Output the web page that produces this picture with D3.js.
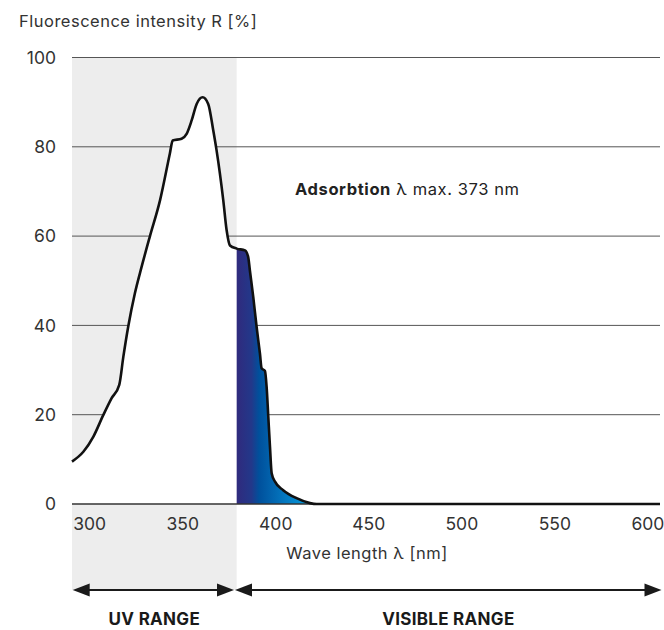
<!DOCTYPE html>
<html>
<head>
<meta charset="utf-8">
<script src="https://cdn.jsdelivr.net/npm/d3@7"></script>
<style>
  body { margin: 0; background: #fff; }
  svg { display: block; font-family: Inter, "Noto Sans", sans-serif; }
</style>
</head>
<body>
<svg width="664" height="630"></svg>
<script>
// Spectrum: wavelength (nm) and intensity (%)
const WAVELENGTH = [290.5, 296.6, 302.0, 307.3, 311.8, 315.9, 318.1, 320.7, 324.3, 327.9,
    332.4, 337.8, 343.1, 344.6, 349.4, 352.1, 354.8, 357.5, 360.7, 363.7,
    366.4, 368.2, 371.8, 373.6, 375.4, 379.0, 383.5, 385.2, 386.1, 387.9,
    389.7, 391.5, 392.4, 394.2, 395.1, 396.0, 396.9, 397.8, 399.6, 404.0,
    411.2, 418.4, 422.0, 606.5];
const INTENSITY = [9.5, 11.7, 15.1, 19.9, 23.7, 26.7, 33, 39.7, 47.2, 53.1,
    60, 68, 78.5, 81.4, 81.8, 82.9, 85.9, 89.6, 91.1, 89.6,
    83.7, 79.2, 68, 61.3, 57.9, 57.2, 56.8, 55.3, 52.3, 46.4,
    39.7, 33.7, 30.4, 29.8, 26.2, 19.5, 12.8, 6.9, 5, 3.1,
    1.3, 0.2, 0, 0];

const X_TICKS = [300, 350, 400, 450, 500, 550, 600];
const Y_TICKS = [0, 20, 40, 60, 80, 100];
const UV_LIMIT = 379;

// Gradient of the visible part
const GRAD_STOPS = [
    { nm: 379, color: "#302a7d" },
    { nm: 387, color: "#22388a" },
    { nm: 391, color: "#00509c" },
    { nm: 405, color: "#0478c0" },
    { nm: 420, color: "#05a0e0" }
];

const svg = d3.select("svg");
const data = WAVELENGTH.map((w, i) => ({ w: w, v: INTENSITY[i] }));

const x = d3.scaleLinear().domain([290.5, 606.5]).range([72, 660]);
const y = d3.scaleLinear().domain([0, 100]).range([504, 57.5]);

// UV band
svg.append("rect")
    .attr("x", x(290.5))
    .attr("y", y(100))
    .attr("width", x(UV_LIMIT) - x(290.5))
    .attr("height", 590 - y(100))
    .attr("fill", "#ededed");

// Grid lines
svg.append("g")
    .selectAll("line")
    .data(Y_TICKS.filter(d => d > 0))
    .enter()
    .append("line")
    .attr("x1", x(290.5))
    .attr("x2", x(606.5))
    .attr("y1", d => y(d))
    .attr("y2", d => y(d))
    .attr("stroke", "#555")
    .attr("stroke-width", 1);

// Gradient definition
const grad = svg.append("defs")
    .append("linearGradient")
    .attr("id", "visGrad")
    .attr("gradientUnits", "userSpaceOnUse")
    .attr("x1", x(379)).attr("x2", x(420))
    .attr("y1", 0).attr("y2", 0);
grad.selectAll("stop")
    .data(GRAD_STOPS)
    .enter()
    .append("stop")
    .attr("offset", d => (d.nm - 379) / (420 - 379))
    .attr("stop-color", d => d.color);

svg.select("defs")
    .append("clipPath")
    .attr("id", "visClip")
    .append("rect")
    .attr("x", x(UV_LIMIT))
    .attr("y", 0)
    .attr("width", 700)
    .attr("height", 600);

const area = d3.area()
    .x(d => x(d.w))
    .y0(y(0))
    .y1(d => y(d.v))
    .curve(d3.curveMonotoneX);

const line = d3.line()
    .x(d => x(d.w))
    .y(d => y(d.v))
    .curve(d3.curveMonotoneX);

svg.append("path")
    .datum(data)
    .attr("d", area)
    .attr("fill", "#fff");

svg.append("path")
    .datum(data)
    .attr("d", area)
    .attr("fill", "url(#visGrad)")
    .attr("clip-path", "url(#visClip)");

// Zero line
svg.append("line")
    .attr("x1", x(290.5))
    .attr("x2", x(606.5))
    .attr("y1", y(0))
    .attr("y2", y(0))
    .attr("stroke", "#333")
    .attr("stroke-width", 1.5);

// Curve
svg.append("path")
    .datum(data)
    .attr("d", line)
    .attr("fill", "none")
    .attr("stroke", "#111")
    .attr("stroke-width", 2.6)
    .attr("stroke-linejoin", "round");

// Axis labels
svg.append("g")
    .selectAll("text")
    .data(Y_TICKS)
    .enter()
    .append("text")
    .attr("x", 56)
    .attr("y", d => y(d))
    .attr("dy", "0.36em")
    .attr("text-anchor", "end")
    .attr("font-size", 17.5)
    .attr("fill", "#333")
    .text(d => d);

svg.append("g")
    .selectAll("text")
    .data(X_TICKS)
    .enter()
    .append("text")
    .attr("x", d => x(d))
    .attr("y", 530)
    .attr("text-anchor", "middle")
    .attr("font-size", 17.5)
    .attr("fill", "#333")
    .text(d => d);

svg.append("text")
    .attr("x", 19)
    .attr("y", 27)
    .attr("font-size", 16.5)
    .attr("letter-spacing", 0.5)
    .attr("fill", "#333")
    .text("Fluorescence intensity R [%]");

svg.append("text")
    .attr("x", 367)
    .attr("y", 559)
    .attr("text-anchor", "middle")
    .attr("font-size", 16.5)
    .attr("letter-spacing", 0.5)
    .attr("fill", "#333")
    .text("Wave length λ [nm]");

const note = svg.append("text")
    .attr("x", 295)
    .attr("y", 195)
    .attr("font-size", 16.5)
    .attr("letter-spacing", 0.6)
    .attr("fill", "#222");
note.append("tspan").attr("font-weight", "bold").text("Adsorbtion");
note.append("tspan").text(" λ max. 373 nm");

// Range arrows
const arrows = [
    { from: 290.5, to: UV_LIMIT, label: "UV RANGE", a: 72.7, b: 234 },
    { from: UV_LIMIT, to: 606.5, label: "VISIBLE RANGE", a: 235, b: 661.5 }
];
const ARROW_Y = 590;
const HEAD = 17;
const HALF = 6.5;

const ag = svg.append("g").selectAll("g").data(arrows).enter().append("g");
ag.append("line")
    .attr("x1", d => d.a + HEAD - 2)
    .attr("x2", d => d.b - HEAD + 2)
    .attr("y1", ARROW_Y)
    .attr("y2", ARROW_Y)
    .attr("stroke", "#1a1a1a")
    .attr("stroke-width", 2);
ag.append("path")
    .attr("d", d => `M${d.a},${ARROW_Y}L${d.a + HEAD},${ARROW_Y - HALF}L${d.a + HEAD},${ARROW_Y + HALF}Z`)
    .attr("fill", "#1a1a1a");
ag.append("path")
    .attr("d", d => `M${d.b},${ARROW_Y}L${d.b - HEAD},${ARROW_Y - HALF}L${d.b - HEAD},${ARROW_Y + HALF}Z`)
    .attr("fill", "#1a1a1a");
ag.append("text")
    .attr("x", d => (x(d.from) + x(d.to)) / 2)
    .attr("y", 625)
    .attr("text-anchor", "middle")
    .attr("font-size", 17)
    .attr("font-weight", "bold")
    .attr("letter-spacing", 0.3)
    .attr("fill", "#1a1a1a")
    .text(d => d.label);
</script>
</body>
</html>
